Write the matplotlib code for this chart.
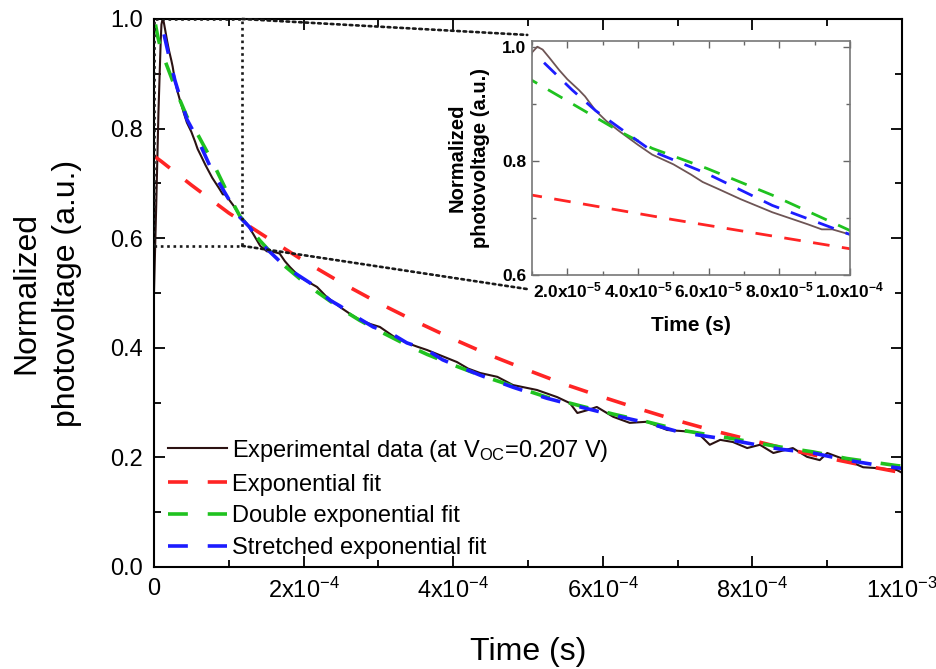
import numpy as np
import matplotlib
matplotlib.use('Agg')
import matplotlib.pyplot as plt
from matplotlib.ticker import MultipleLocator, FuncFormatter
from matplotlib.patches import Rectangle, ConnectionPatch

plt.rcParams['font.family'] = ['Liberation Sans', 'DejaVu Sans']
plt.rcParams['mathtext.fontset'] = 'custom'
plt.rcParams['mathtext.rm'] = 'Liberation Sans'
plt.rcParams['mathtext.it'] = 'Liberation Sans:italic'
plt.rcParams['mathtext.bf'] = 'Liberation Sans:bold'

# time in microseconds
t_exp = [0, 3, 6, 9, 10, 11.5, 13, 15, 17.7, 20, 23.3, 25, 28, 31, 34.7, 40, 44, 50,
         55, 58.3, 63, 69, 78, 88, 92, 95, 100, 106, 115, 124, 133, 142, 151, 160,
         168, 175, 182, 195, 209, 218, 230, 249, 262, 275, 290, 302, 320, 338, 352,
         365, 385, 405, 420, 436, 459, 480, 512, 539, 556, 566, 579, 592, 614, 636,
         659, 686, 726, 743, 757, 774, 793, 810, 828, 854, 873, 890, 900, 926, 948,
         971, 993, 1000]
v_exp = [0.50, 0.66, 0.83, 0.96, 0.99, 1.0, 0.995, 0.98, 0.959, 0.943, 0.924, 0.913,
         0.888, 0.87, 0.852, 0.828, 0.811, 0.794, 0.776, 0.763, 0.75, 0.733, 0.71,
         0.689, 0.68, 0.68, 0.671, 0.66, 0.64, 0.627, 0.607, 0.586, 0.576, 0.575,
         0.572, 0.558, 0.547, 0.529, 0.518, 0.511, 0.494, 0.474, 0.462, 0.451, 0.443,
         0.438, 0.421, 0.409, 0.402, 0.396, 0.385, 0.374, 0.362, 0.354, 0.347, 0.332,
         0.323, 0.310, 0.299, 0.281, 0.286, 0.292, 0.274, 0.263, 0.265, 0.25, 0.246,
         0.223, 0.232, 0.228, 0.217, 0.223, 0.208, 0.217, 0.201, 0.195, 0.208, 0.195,
         0.182, 0.18, 0.177, 0.172]

t_single = [0, 10, 50, 100, 150, 200, 250, 300, 350, 400, 450, 500, 550, 600, 650,
            700, 750, 800, 850, 900, 950, 1000]
v_single = [0.75, 0.74, 0.697, 0.646, 0.602, 0.559, 0.519, 0.482, 0.448, 0.416, 0.386,
            0.359, 0.333, 0.310, 0.288, 0.267, 0.248, 0.231, 0.214, 0.199, 0.185, 0.172]

t_double = [2, 5, 10, 21.4, 34.7, 44, 59.4, 78, 100, 115, 142, 168, 195, 218, 249,
            275, 302, 338, 365, 405, 436, 480, 525, 570, 614, 659, 703, 770, 837, 881,
            926, 993, 1000]
v_double = [0.99, 0.968, 0.941, 0.9, 0.852, 0.822, 0.787, 0.74, 0.678, 0.64, 0.595,
            0.557, 0.526, 0.502, 0.472, 0.45, 0.43, 0.405, 0.388, 0.366, 0.35, 0.33,
            0.31, 0.294, 0.279, 0.265, 0.25, 0.235, 0.219, 0.21, 0.198, 0.185, 0.184]

t_stretch = [13.4, 21.4, 28, 34.7, 44, 59.4, 78, 100, 115, 128, 142, 168, 182, 209,
             235, 249, 271, 293, 316, 338, 365, 386, 409, 436, 480, 525, 570, 614, 659,
             703, 770, 837, 881, 926, 971, 993, 1000]
v_stretch = [0.972, 0.924, 0.888, 0.858, 0.817, 0.778, 0.722, 0.671, 0.638, 0.62,
             0.592, 0.558, 0.542, 0.518, 0.487, 0.476, 0.456, 0.438, 0.427, 0.409,
             0.396, 0.378, 0.365, 0.35, 0.328, 0.308, 0.292, 0.277, 0.263, 0.246, 0.232,
             0.215, 0.208, 0.195, 0.185, 0.181, 0.180]

labels = ['Experimental data (at V$_{\\mathrm{OC}}$=0.207 V)', 'Exponential fit',
          'Double exponential fit', 'Stretched exponential fit']

c_exp, c_red, c_green, c_blue = '#2b1212', '#ff2424', '#1fc21f', '#1c1cff'

us = 1e-6
fig = plt.figure(figsize=(9.36, 6.69), dpi=100)
ax = fig.add_axes([0.1645, 0.1525, 0.7992, 0.8191])

ax.plot(np.array(t_exp) * us, v_exp, color=c_exp, lw=1.5, label=labels[0])
ax.plot(np.array(t_single) * us, v_single, color=c_red, lw=2.6, dashes=(5.5, 5.5), label=labels[1])
ax.plot(np.array(t_double) * us, v_double, color=c_green, lw=2.6, dashes=(5.5, 5.5), label=labels[2])
ax.plot(np.array(t_stretch) * us, v_stretch, color=c_blue, lw=2.6, dashes=(5.5, 5.5), label=labels[3])

ax.set_xlim(0, 1e-3)
ax.set_ylim(0, 1.0)
ax.xaxis.set_major_locator(MultipleLocator(2e-4))
ax.xaxis.set_minor_locator(MultipleLocator(1e-4))
ax.yaxis.set_major_locator(MultipleLocator(0.2))
ax.yaxis.set_minor_locator(MultipleLocator(0.1))

def sci_parts(x):
    e = int(np.floor(np.log10(abs(x)) + 1e-9))
    return x / 10**e, e

def main_fmt(x, pos):
    if abs(x) < 1e-12:
        return '0'
    m, e = sci_parts(x)
    return '%dx10$^{%d}$' % (round(m), e)

def inset_fmt(x, pos):
    if abs(x) < 1e-12:
        return '0'
    m, e = sci_parts(x)
    return '%.1fx10$^{\\mathbf{%d}}$' % (m, e)

ax.xaxis.set_major_formatter(FuncFormatter(main_fmt))
ax.yaxis.set_major_formatter(FuncFormatter(lambda y, p: '%.1f' % y))
ax.tick_params(which='both', direction='in', top=True, right=True, width=1.3, labelsize=17)
ax.tick_params(which='major', length=8, pad=8)
ax.tick_params(which='minor', length=5)
for s in ax.spines.values():
    s.set_linewidth(1.5)
ax.set_xlabel('Time (s)', fontsize=23, labelpad=24)
ax.set_ylabel('Normalized\nphotovoltage (a.u.)', fontsize=23, labelpad=20,
              multialignment='center', linespacing=1.45)

leg = ax.legend(loc='upper left', bbox_to_anchor=(0.019, 0.236), frameon=False, fontsize=17,
                handlelength=2.5, handletextpad=0.2, labelspacing=0.42, borderaxespad=0, borderpad=0)

# zoom box on the main plot
box = dict(x0=0, y0=0.586, x1=1.18e-4, y1=1.0)
ax.add_patch(Rectangle((box['x0'], box['y0']), box['x1'] - box['x0'], box['y1'] - box['y0'],
                       fill=False, ls=(0, (1, 1.4)), lw=1.9, color='#1a1a1a', zorder=5))

# inset
axi = fig.add_axes([0.5684, 0.5889, 0.3397, 0.3498])
axi.plot(np.array(t_exp) * us, v_exp, color='#6e5555', lw=1.3)
axi.plot(np.array(t_single) * us, v_single, color=c_red, lw=2.0, dashes=(6, 4.5))
axi.plot(np.array(t_double) * us, v_double, color=c_green, lw=2.0, dashes=(6, 4.5))
axi.plot(np.array(t_stretch) * us, v_stretch, color=c_blue, lw=2.0, dashes=(6, 4.5))
axi.set_xlim(1e-5, 1e-4)
axi.set_ylim(0.6, 1.01)
axi.xaxis.set_major_locator(MultipleLocator(2e-5))
axi.xaxis.set_minor_locator(MultipleLocator(1e-5))
axi.yaxis.set_major_locator(MultipleLocator(0.2))
axi.yaxis.set_minor_locator(MultipleLocator(0.1))
axi.xaxis.set_major_formatter(FuncFormatter(inset_fmt))
axi.yaxis.set_major_formatter(FuncFormatter(lambda y, p: '%.1f' % y))
axi.tick_params(which='both', direction='in', top=True, right=True, width=1.0,
                labelsize=12.5, color='#666666')
axi.tick_params(which='major', length=5, pad=4)
axi.tick_params(which='minor', length=3)
for lab in axi.get_xticklabels() + axi.get_yticklabels():
    lab.set_fontweight('bold')
for s in axi.spines.values():
    s.set_color('#777777')
    s.set_linewidth(1.2)
axi.set_xlabel('Time (s)', fontsize=15, fontweight='bold', labelpad=11)
axi.set_ylabel('Normalized\nphotovoltage (a.u.)', fontsize=14.5, fontweight='bold',
               labelpad=9, multialignment='center', linespacing=1.3)

# connector lines from the zoom box to the inset
for (xa, ya), (xb, yb) in [((box['x1'], box['y1']), (-0.015, 1.026)),
                           ((box['x1'], box['y0']), (-0.015, -0.06))]:
    con = ConnectionPatch(xyA=(xa, ya), coordsA=ax.transData, xyB=(xb, yb),
                          coordsB=axi.transAxes, ls=(0, (1, 1.4)), lw=1.9, color='#1a1a1a')
    fig.add_artist(con)

fig.savefig('out.png', dpi=100)
